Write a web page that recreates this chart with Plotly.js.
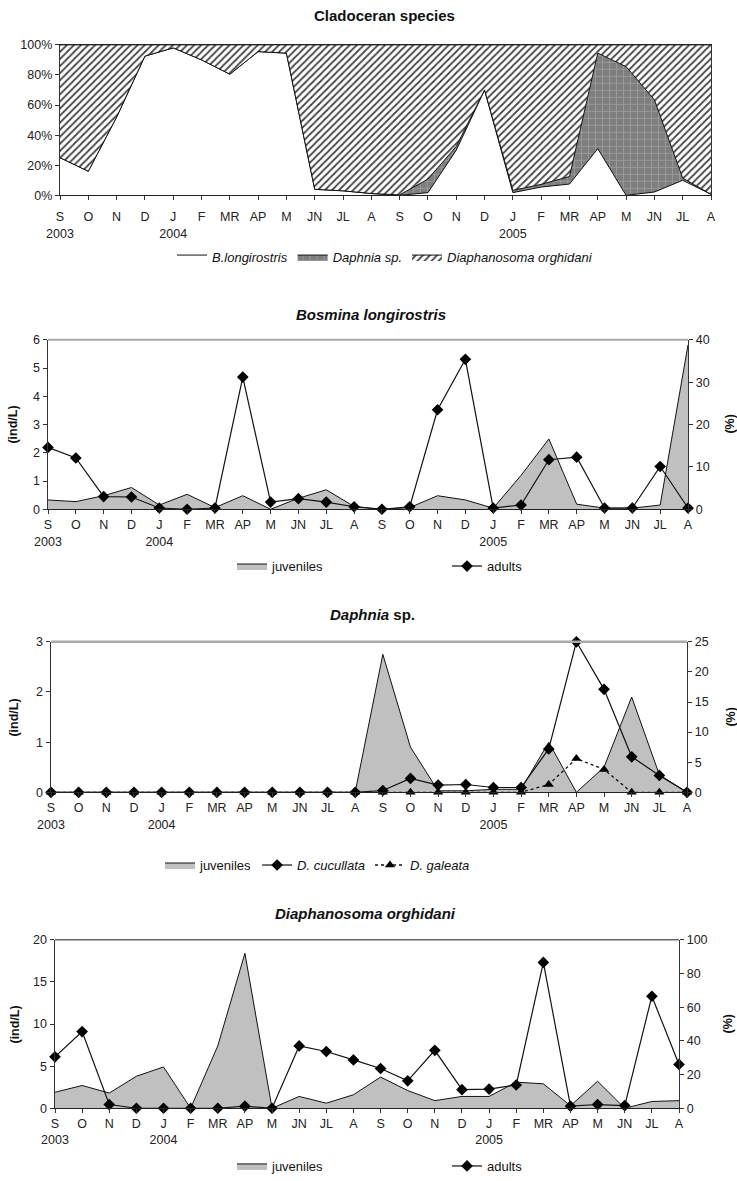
<!DOCTYPE html>
<html><head><meta charset="utf-8">
<script src="https://cdn.plot.ly/plotly-3.0.1.min.js"></script>
<style>html,body{margin:0;padding:0;background:#fff}#chart{width:737px;height:1181px}</style>
</head><body><div id="chart"></div>
<script>
// ---- categories ----
const months = ['S','O','N','D','J','F','MR','AP','M','JN','JL','A','S','O','N','D','J','F','MR','AP','M','JN','JL','A'];
const yearLabels = ['2003','','','','2004','','','','','','','','','','','','2005','','','','','','',''];

// ---- Panel 1: Cladoceran species (% composition) ----
const bosminaPct      = [25, 16, 52, 92.5, 98, 90, 80.5, 95.5, 94.5, 4, 3, 1.2, 0, 1.8, 30, 70, 1.8, 5.5, 7.5, 31, 0, 2.2, 10, 0.7];
const daphniaPct      = [0, 0, 0, 0, 0, 0, 0, 0, 0, 0, 0, 0, 0.3, 9, 2.5, 0, 1.5, 1.8, 5, 63.5, 85.5, 61.3, 1.5, 0];
const diaphanosomaPct = [75, 84, 48, 7.5, 2, 10, 19.5, 4.5, 5.5, 96, 97, 98.8, 99.7, 89.2, 67.5, 30, 96.7, 92.7, 87.5, 5.5, 14.5, 36.5, 88.5, 99.3];

// ---- Panel 2: Bosmina longirostris ----
const bosJuv    = [0.33, 0.27, 0.48, 0.77, 0.15, 0.53, 0.06, 0.48, 0, 0.39, 0.69, 0.1, 0, 0.06, 0.48, 0.33, 0.04, 1.2, 2.49, 0.18, 0.04, 0.04, 0.15, 5.82];
const bosAdults = [14.6, 12.1, 3.0, 2.9, 0.3, 0, 0.3, 31.2, 1.7, 2.5, 1.7, 0.6, 0, 0.6, 23.5, 35.4, 0.3, 1.0, 11.7, 12.3, 0.3, 0.3, 10.1, 0.3];

// ---- Panel 3: Daphnia sp. ----
const dapJuv       = [0, 0, 0, 0, 0, 0, 0, 0, 0, 0, 0, 0, 2.75, 0.9, 0.03, 0.03, 0.06, 0.06, 1.0, 0, 0.5, 1.9, 0.35, 0];
const dapCucullata = [0, 0, 0, 0, 0, 0, 0, 0, 0, 0, 0, 0, 0.3, 2.3, 1.2, 1.3, 0.8, 0.8, 7.2, 25, 17.1, 5.9, 2.8, 0];
const dapGaleata   = [0, 0, 0, 0, 0, 0, 0, 0, 0, 0, 0, 0, 0, 0, 0, 0, 0, 0, 1.3, 5.6, 3.8, 0, 0, 0];

// ---- Panel 4: Diaphanosoma orghidani ----
const diaJuv    = [1.9, 2.7, 1.8, 3.8, 4.9, 0, 7.4, 18.4, 0, 1.4, 0.6, 1.6, 3.7, 2.1, 0.9, 1.4, 1.4, 3.1, 2.9, 0.3, 3.2, 0, 0.8, 0.9];
const diaAdults = [30.5, 45.5, 2.2, 0, 0, 0, 0, 1.2, 0, 37, 33.7, 28.7, 23.6, 16.3, 34.4, 11, 11.4, 13.8, 86.6, 1.2, 2.2, 1.6, 66.5, 26];

const idx = months.map((_, i) => i);
const tickText = months.map((m, i) => yearLabels[i] ? m + '<br>' + yearLabels[i] : m);

const W = 737, H = 1181;
const px = v => v / W;
const py = v => 1 - v / H;
const FONT = 'Liberation Sans, Arial, sans-serif';
const tickFont = {family: FONT, size: 12.5, color: '#222'};

const juvStyle = {mode: 'lines', fill: 'tozeroy', fillcolor: '#c0c0c0', line: {color: '#111', width: 1}};
const adultStyle = {mode: 'lines+markers', cliponaxis: false, line: {color: '#111', width: 1.2}, marker: {symbol: 'diamond', size: 9, color: '#000'}};

const traces = [
  // panel 1
  {x: idx, y: bosminaPct, name: '<i>B.longirostris</i>', stackgroup: 'a', mode: 'lines', fillcolor: '#ffffff',
   line: {color: '#111', width: 1}, xaxis: 'x', yaxis: 'y', legend: 'legend'},
  {x: idx, y: daphniaPct, name: '<i>Daphnia sp.</i>', stackgroup: 'a', mode: 'lines',
   fillpattern: {shape: '+', bgcolor: '#7e7e7e', fgcolor: '#9a9a9a', size: 7, solidity: 0.25},
   line: {color: '#111', width: 1}, xaxis: 'x', yaxis: 'y', legend: 'legend'},
  {x: idx, y: diaphanosomaPct, name: '<i>Diaphanosoma orghidani</i>', stackgroup: 'a', mode: 'lines',
   fillpattern: {shape: '/', bgcolor: '#ffffff', fgcolor: '#444', size: 5, solidity: 0.35},
   line: {color: '#111', width: 1}, xaxis: 'x', yaxis: 'y', legend: 'legend'},
  // panel 2
  Object.assign({x: idx, y: bosJuv, name: 'juveniles', xaxis: 'x2', yaxis: 'y2', legend: 'legend2'}, juvStyle),
  Object.assign({x: idx, y: bosAdults, name: 'adults', xaxis: 'x2', yaxis: 'y3', legend: 'legend2'}, adultStyle),
  // panel 3
  Object.assign({x: idx, y: dapJuv, name: 'juveniles', xaxis: 'x3', yaxis: 'y4', legend: 'legend3'}, juvStyle),
  Object.assign({x: idx, y: dapCucullata, name: '<i>D. cucullata</i>', xaxis: 'x3', yaxis: 'y5', legend: 'legend3'}, adultStyle),
  {x: idx, y: dapGaleata, name: '<i>D. galeata</i>', xaxis: 'x3', yaxis: 'y5', legend: 'legend3', mode: 'lines+markers', cliponaxis: false,
   line: {color: '#111', width: 1.3, dash: 'dot'}, marker: {symbol: 'triangle-up', size: 9, color: '#000'}},
  // panel 4
  Object.assign({x: idx, y: diaJuv, name: 'juveniles', xaxis: 'x4', yaxis: 'y6', legend: 'legend4'}, juvStyle),
  Object.assign({x: idx, y: diaAdults, name: 'adults', xaxis: 'x4', yaxis: 'y7', legend: 'legend4'}, adultStyle)
];

function xAx(d0, d1, anchor, extra) {
  return Object.assign({domain: [px(d0), px(d1)], anchor: anchor, range: [0, 23], tickvals: idx, ticktext: tickText,
    tickangle: 0, ticks: 'outside', ticklen: 4, tickcolor: '#333', showline: true, linecolor: '#222', linewidth: 1,
    showgrid: false, zeroline: false, tickfont: tickFont, fixedrange: true}, extra || {});
}
function yAx(top, bot, range, dtick, anchor, extra) {
  return Object.assign({domain: [py(bot), py(top)], anchor: anchor, range: range, dtick: dtick, ticks: 'outside', ticklen: 4,
    tickcolor: '#333', showline: true, linecolor: '#333', linewidth: 1.5, showgrid: false, zeroline: false,
    tickfont: tickFont, fixedrange: true}, extra || {});
}
function yRight(over, anchor, range, dtick) {
  return {overlaying: over, side: 'right', anchor: anchor, range: range, dtick: dtick, ticks: 'outside', ticklen: 4,
    tickcolor: '#333', showline: true, linecolor: '#333', linewidth: 1.2, showgrid: false, zeroline: false,
    tickfont: tickFont, fixedrange: true};
}

const titleFont = {family: FONT, size: 15, color: '#111'};
const axTitleFont = {family: FONT, size: 12.5, color: '#111'};
function ann(text, x, y, font, angle) {
  return {text: text, x: px(x), y: py(y), xref: 'paper', yref: 'paper', showarrow: false, xanchor: 'center',
    yanchor: 'middle', font: font, textangle: angle || 0};
}
function legendAt(x, y, anchor) {
  return {x: px(x), y: py(y), xanchor: anchor || 'left', yanchor: 'middle', orientation: 'h', traceorder: 'normal',
    font: {family: FONT, size: 13, color: '#111'}, bgcolor: 'rgba(0,0,0,0)', itemclick: false, itemdoubleclick: false};
}

const layout = {
  width: W, height: H, margin: {l: 0, r: 0, t: 0, b: 0}, paper_bgcolor: '#fff', plot_bgcolor: '#fff',
  showlegend: true,
  xaxis: xAx(60, 711, 'y', {mirror: true, ticklabelstandoff: 6}),
  yaxis: yAx(45, 196, [0, 100], 20, 'x', {ticksuffix: '%', mirror: true, linewidth: 1.2}),
  xaxis2: xAx(48, 688, 'y2'),
  yaxis2: yAx(341, 511, [0, 6], 1, 'x2'),
  yaxis3: yRight('y2', 'x2', [0, 40], 10),
  xaxis3: xAx(51, 687, 'y4'),
  yaxis4: yAx(644, 795, [0, 3], 1, 'x3'),
  yaxis5: yRight('y4', 'x3', [0, 25], 5),
  xaxis4: xAx(55, 679, 'y6'),
  yaxis6: yAx(943, 1112, [0, 20], 5, 'x4'),
  yaxis7: yRight('y6', 'x4', [0, 100], 20),
  legend: legendAt(385, 258, 'center'),
  legend2: Object.assign(legendAt(232, 568), {entrywidth: 170, entrywidthmode: 'pixels'}),
  legend3: legendAt(160, 868),
  legend4: Object.assign(legendAt(232, 1170), {entrywidth: 170, entrywidthmode: 'pixels'}),
  shapes: [
    {type: 'line', xref: 'x2 domain', yref: 'y2 domain', x0: 0, x1: 1, y0: 1, y1: 1, line: {color: '#aaa', width: 2}},
    {type: 'line', xref: 'x3 domain', yref: 'y4 domain', x0: 0, x1: 1, y0: 1, y1: 1, line: {color: '#aaa', width: 2.5}},
    {type: 'line', xref: 'x4 domain', yref: 'y6 domain', x0: 0, x1: 1, y0: 1, y1: 1, line: {color: '#666', width: 1.5}}
  ],
  annotations: [
    ann('<b>Cladoceran species</b>', 385, 16, titleFont),
    ann('<b><i>Bosmina longirostris</i></b>', 371, 316, titleFont),
    ann('<b><i>Daphnia</i> sp.</b>', 372, 617, titleFont),
    ann('<b><i>Diaphanosoma orghidani</i></b>', 365, 917, titleFont),
    ann('<b>(ind/L)</b>', 13, 426, axTitleFont, -90),
    ann('<b>(%)</b>', 730, 426, axTitleFont, -90),
    ann('<b>(ind/L)</b>', 14, 720, axTitleFont, -90),
    ann('<b>(%)</b>', 731, 720, axTitleFont, -90),
    ann('<b>(ind/L)</b>', 15, 1028, axTitleFont, -90),
    ann('<b>(%)</b>', 728, 1028, axTitleFont, -90)
  ]
};

Plotly.newPlot('chart', traces, layout, {displayModeBar: false, staticPlot: true});
</script>
</body></html>
